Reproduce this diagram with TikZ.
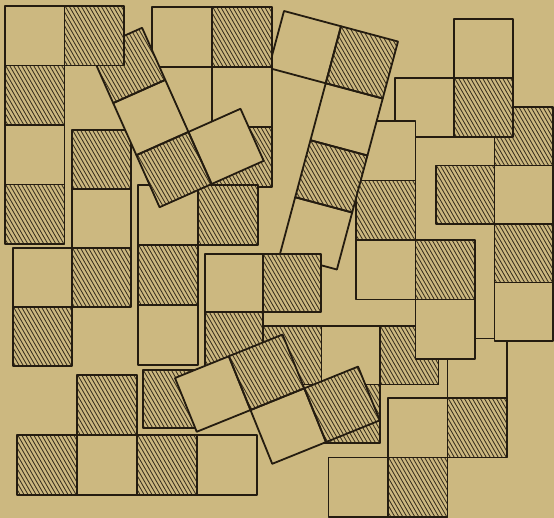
\documentclass[tikz,border=0pt]{standalone}
\definecolor{bgc}{RGB}{204,184,128}
\definecolor{inkc}{RGB}{36,28,16}
\definecolor{hatchc}{RGB}{58,48,30}
\tikzset{
  edge/.style={draw=inkc, line width=1.8pt, line join=round},
  hl/.style={draw=hatchc, line width=0.85pt},
  cellfill/.style={fill=bgc}
}
% #1 ox, #2 oy, #3 rotation, #4 cell size, #5 cells i/j/hatched
\newcommand\drawpiece[5]{%
  \begin{scope}[shift={(#1,#2)},rotate=#3,scale=#4]
    \foreach \i/\j/\hh in {#5} {
      \fill[cellfill] (\i,\j) -- ++(1,0) -- ++(0,1) -- ++(-1,0) -- cycle;
    }
  \end{scope}
  \foreach \i/\j/\hh in {#5} {
    \ifnum\hh=1
      \begin{scope}
        \clip[shift={(#1,#2)},rotate=#3,scale=#4] (\i,\j) -- ++(1,0) -- ++(0,1) -- ++(-1,0) -- cycle;
        \path[shift={(#1,#2)},rotate=#3,scale=#4] (\i+0.5,\j+0.5) coordinate (hc);
        \foreach \t in {-68,-64,...,68} { \draw[hl] (hc) ++(\t-30,-52) -- ++(60,104); }
      \end{scope}
    \fi
  }
  \begin{scope}[shift={(#1,#2)},rotate=#3,scale=#4]
    \foreach \i/\j/\hh in {#5} {
      \draw[edge] (\i,\j) -- ++(1,0) -- ++(0,1) -- ++(-1,0) -- cycle;
    }
  \end{scope}
}
\begin{document}
\begin{tikzpicture}[x=1pt,y=-1pt]
\fill[bgc] (0,0) rectangle (554,518);
\useasboundingbox (0,0) rectangle (554,518);
% back to front
\drawpiece{388}{398}{0}{59.5}{1/-1/0, 0/0/0, 1/0/1, 0/1/1, -1/1/0}
\drawpiece{436}{107}{0}{58.5}{1/0/1, 1/1/0, 0/1/1, 1/2/1, 1/3/0}
\drawpiece{395}{19}{0}{59}{1/0/0, 1/1/1, 0/1/0}
\drawpiece{263}{326}{0}{58.5}{0/0/1, 1/0/0, 2/0/1, 1/1/1}
\drawpiece{356}{121}{0}{59.5}{0/0/0, 0/1/1, 0/2/0, 1/2/1, 1/3/0}
\drawpiece{284}{11}{-15}{59}{0/0/0, 1/0/1, 1/1/0, 1/2/1, 1/3/0}
\drawpiece{152}{7}{0}{60}{0/0/0, 1/0/1, 1/1/0, 1/2/1}
\drawpiece{205}{254}{0}{58}{0/0/0, 1/0/1, 0/1/1}
\drawpiece{13}{130}{0}{59}{1/0/1, 1/1/0, 1/2/1, 0/2/0, 0/3/1}
\drawpiece{138}{185}{0}{60}{0/0/0, 1/0/1, 0/1/1, 0/2/0}
\drawpiece{90}{51}{24}{57}{0/0/1, 0/1/0, 0/2/1, 1/2/0}
\drawpiece{5}{6}{0}{59.5}{0/0/0, 1/0/1, 0/1/1, 0/2/0, 0/3/1}
\drawpiece{143}{370}{0}{58}{0/0/1}
\drawpiece{17}{375}{0}{60}{1/0/1, 0/1/1, 1/1/0, 2/1/1, 3/1/0}
\drawpiece{175}{378}{22}{58}{0/0/0, 1/0/1, 1/1/0, 2/1/1}
\end{tikzpicture}
\end{document}
